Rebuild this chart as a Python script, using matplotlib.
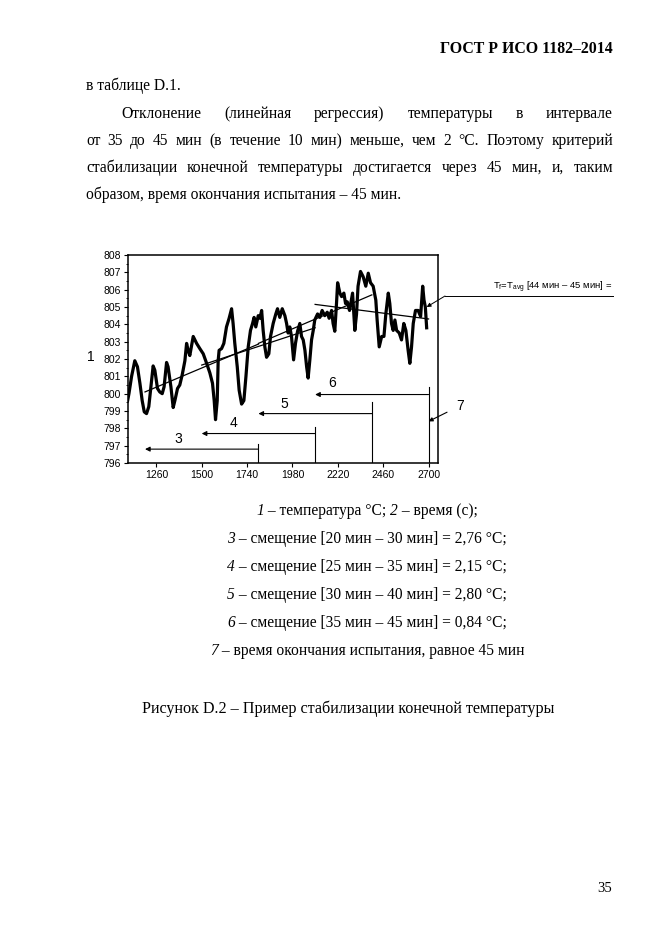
import matplotlib
matplotlib.use('Agg')
import matplotlib.pyplot as plt

W, H = 661, 935

# temperature trace: time (s), temperature (°C)
time_s = [1108, 1115, 1129, 1146, 1160, 1173, 1185, 1196, 1208, 1220, 1231, 1243,
          1252, 1266, 1278, 1291, 1301, 1314, 1322, 1337, 1349, 1358, 1372, 1384,
          1397, 1411, 1420, 1428, 1437, 1455, 1473, 1490, 1508, 1526, 1543, 1557,
          1566, 1573, 1582, 1587, 1592, 1605, 1617, 1631, 1645, 1658, 1666, 1675,
          1688, 1698, 1711, 1723, 1734, 1746, 1758, 1769, 1777, 1786, 1799, 1808,
          1817, 1825, 1834, 1843, 1855, 1864, 1878, 1892, 1901, 1913, 1926, 1940,
          1949, 1957, 1966, 1975, 1986, 1996, 2007, 2019, 2028, 2037, 2046, 2055,
          2063, 2072, 2081, 2090, 2098, 2113, 2125, 2137, 2151, 2164, 2174, 2187,
          2195, 2204, 2213, 2219, 2231, 2240, 2252, 2261, 2270, 2282, 2298, 2310,
          2319, 2327, 2340, 2354, 2368, 2381, 2393, 2407, 2421, 2428, 2439, 2452,
          2464, 2474, 2487, 2495, 2504, 2513, 2522, 2531, 2545, 2557, 2569, 2580,
          2592, 2601, 2610, 2619, 2631, 2645, 2658, 2669, 2676, 2683, 2690]
temp_c = [799.6, 800.0, 801.0, 801.9, 801.55, 800.6, 799.6, 798.95, 798.85, 799.25, 800.4, 801.6,
          801.35, 800.3, 800.1, 800.0, 800.4, 801.8, 801.55, 800.4, 799.2, 799.6, 800.3, 800.5,
          801.1, 801.9, 802.9, 802.5, 802.2, 803.3, 802.9, 802.6, 802.3, 801.75, 801.2, 800.6,
          799.6, 798.5, 799.6, 801.9, 802.5, 802.6, 802.9, 803.85, 804.35, 804.9, 804.05, 802.9,
          801.55, 800.2, 799.4, 799.6, 801.0, 802.7, 803.65, 804.05, 804.4, 803.85, 804.5, 804.35,
          804.8, 803.65, 802.7, 802.1, 802.3, 803.3, 804.05, 804.6, 804.9, 804.4, 804.9, 804.5,
          804.05, 803.5, 803.85, 803.3, 801.95, 802.9, 803.6, 804.05, 803.3, 803.1, 802.5, 801.55,
          800.9, 801.95, 803.1, 803.65, 804.25, 804.6, 804.4, 804.8, 804.5, 804.7, 804.35, 804.8,
          804.05, 803.6, 805.2, 806.4, 805.8, 805.6, 805.8, 805.2, 805.3, 804.8, 805.8, 803.65,
          804.6, 806.2, 807.05, 806.75, 806.2, 806.95, 806.4, 806.2, 805.4, 804.25, 802.7, 803.3,
          803.3, 804.6, 805.8, 805.2, 804.05, 803.65, 804.25, 803.65, 803.5, 803.1, 804.05, 803.65,
          802.5, 801.75, 802.7, 804.05, 804.8, 804.8, 804.45, 806.2, 805.4, 805.0, 803.8]

# regression lines over the 10-min windows
reg_t0 = [1200, 1500, 1800, 2100]
reg_t1 = [1800, 2100, 2400, 2700]
reg_y0 = [800.1, 801.65, 802.9, 805.15]
reg_y1 = [802.86, 803.8, 805.7, 804.31]

# window arrows 3..6
win_labels = ['3', '4', '5', '6']
arrow_level = [796.8, 797.7, 798.85, 799.95]
vline_top = [797.1, 798.1, 799.5, 800.4]
label_x = [1377, 1668, 1937, 2191]
label_y = [797.4, 798.3, 799.4, 800.6]

yticks = list(range(796, 809))
xticks = [1260, 1500, 1740, 1980, 2220, 2460, 2700]

# key under the figure: (italic, upright) pieces per line
key_lines = [
    [('1', True), (' – температура °С; ', False), ('2', True), (' – время (с);', False)],
    [('3', True), (' – смещение [20 мин – 30 мин] = 2,76 °С;', False)],
    [('4', True), (' – смещение [25 мин – 35 мин] = 2,15 °С;', False)],
    [('5', True), (' – смещение [30 мин – 40 мин] = 2,80 °С;', False)],
    [('6', True), (' – смещение [35 мин – 45 мин] = 0,84 °С;', False)],
    [('7', True), (' – время окончания испытания, равное 45 мин', False)],
]

plt.rcParams['font.family'] = ['Liberation Serif', 'DejaVu Serif']
plt.rcParams['mathtext.fontset'] = 'custom'
plt.rcParams['mathtext.rm'] = 'Liberation Sans'
plt.rcParams['mathtext.sf'] = 'Liberation Sans'

fig = plt.figure(figsize=(W / 100, H / 100), dpi=100)
rend = fig.canvas.get_renderer()
FS = 11.2


def fx(x):
    return x / W


def fy(y):
    return 1 - y / H


def justify(line, x0, x1, y, size=FS):
    words = line.split()
    objs = [fig.text(0, fy(y), w, fontsize=size, va='baseline') for w in words]
    widths = [o.get_window_extent(rend).width for o in objs]
    gap = (x1 - x0 - sum(widths)) / (len(words) - 1)
    x = x0
    for o, wd in zip(objs, widths):
        o.set_x(fx(x))
        x += wd + gap


def centered_pieces(pieces, xc, y, size=FS):
    objs = [fig.text(0, fy(y), s, fontsize=size, va='baseline',
                     style='italic' if it else 'normal') for s, it in pieces]
    widths = [o.get_window_extent(rend).width for o in objs]
    x = xc - sum(widths) / 2
    for o, wd in zip(objs, widths):
        o.set_x(fx(x))
        x += wd


# page text
fig.text(fx(613), fy(53), 'ГОСТ Р ИСО 1182–2014', fontsize=11.4, weight='bold',
         ha='right', va='baseline')
fig.text(fx(86), fy(90), 'в таблице D.1.', fontsize=FS, va='baseline')
justify('Отклонение (линейная регрессия) температуры в интервале', 121, 613, 118)
justify('от 35 до 45 мин (в течение 10 мин) меньше, чем 2 °С. Поэтому критерий', 86, 613, 145)
justify('стабилизации конечной температуры достигается через 45 мин, и, таким', 86, 613, 172)
fig.text(fx(86), fy(199), 'образом, время окончания испытания – 45 мин.', fontsize=FS, va='baseline')

for i, pieces in enumerate(key_lines):
    centered_pieces(pieces, 367, 515 + 28 * i)
fig.text(fx(348), fy(713), 'Рисунок D.2 – Пример стабилизации конечной температуры',
         fontsize=11.6, ha='center', va='baseline')
fig.text(fx(605), fy(892), '35', fontsize=10.5, ha='center', va='baseline')

# chart
sans = ['Liberation Sans', 'DejaVu Sans']
ax = fig.add_axes([fx(128), fy(463), (438 - 128) / W, (463 - 255) / H])
ax.plot(time_s, temp_c, color='black', lw=2.3, solid_joinstyle='round')
for t0, t1, y0, y1 in zip(reg_t0, reg_t1, reg_y0, reg_y1):
    ax.plot([t0, t1], [y0, y1], color='black', lw=0.9)

for lab, t0, t1, lev, top, lx, ly in zip(win_labels, reg_t0, reg_t1, arrow_level,
                                          vline_top, label_x, label_y):
    ax.plot([t1, t1], [796, top], color='black', lw=0.8)
    ax.annotate('', xy=(t0, lev), xytext=(t1, lev),
                arrowprops=dict(arrowstyle='-|>', color='black', lw=0.8,
                                mutation_scale=7, shrinkA=0, shrinkB=0))
    ax.text(lx, ly, lab, fontsize=10, family=sans, ha='center', va='center')

ax.annotate('7', xy=(2700, 798.4), xytext=(2866, 799.3), fontsize=10, family=sans,
            ha='center', va='center', annotation_clip=False,
            arrowprops=dict(arrowstyle='-|>', color='black', lw=0.8,
                            mutation_scale=6, shrinkA=5, shrinkB=0))

ax.annotate('', xy=(2690, 805.0), xytext=(445, H - 296), textcoords='figure pixels',
            annotation_clip=False,
            arrowprops=dict(arrowstyle='-|>', color='black', lw=0.7,
                            mutation_scale=6, shrinkA=0, shrinkB=0))
fig.add_artist(plt.Line2D([fx(445), fx(613)], [fy(296), fy(296)], color='black', lw=0.7))
fig.text(fx(612), fy(287), r'T$_\mathsf{f}$=T$_\mathsf{avg}$ [44 мин – 45 мин] =',
         fontsize=6.8, family=sans, ha='right', va='center')

fig.text(fx(91), fy(357), '1', fontsize=10, family=sans, ha='center', va='center')

ax.set_xlim(1110, 2750)
ax.set_ylim(796, 808)
ax.set_yticks(yticks)
ax.set_xticks(xticks)
ax.set_yticks([v + 0.5 for v in yticks[:-1]], minor=True)
ax.tick_params(axis='both', which='major', direction='out', length=3, width=0.8,
               labelsize=7.5, pad=2)
ax.tick_params(axis='y', which='minor', direction='out', length=1.5, width=0.6)
for lab in ax.get_xticklabels() + ax.get_yticklabels():
    lab.set_family(sans)
for sp in ax.spines.values():
    sp.set_linewidth(1.1)

fig.savefig('out.png', dpi=100)
